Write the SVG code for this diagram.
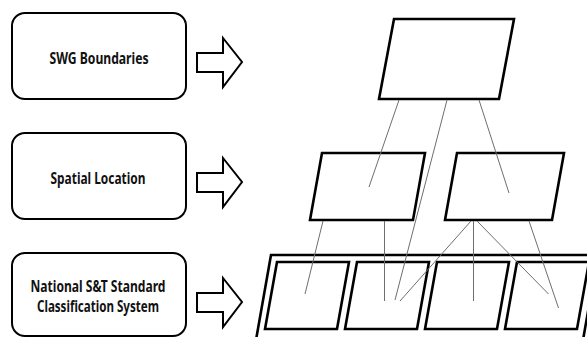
<svg xmlns="http://www.w3.org/2000/svg" width="587" height="337" viewBox="0 0 587 337">
<style>
.box{fill:#fff;stroke:#000;stroke-width:2}
.lbl{font-family:"Noto Sans","Liberation Sans",sans-serif;font-weight:bold;font-size:16px;fill:#111;text-anchor:middle}
.arrow{fill:#fff;stroke:#000;stroke-width:2;stroke-linejoin:miter}
.para{fill:#fff;stroke:#000;stroke-width:2.6;stroke-linejoin:miter}
.link{stroke:#6e6e6e;stroke-width:1;fill:none}
</style>
<rect width="587" height="337" fill="#fff"/>
<g id="swg-boundaries">
<rect class="box" x="12" y="13" width="174" height="86" rx="13"/>
<text class="lbl" x="99" y="63.5" textLength="99" lengthAdjust="spacingAndGlyphs">SWG Boundaries</text>
</g>
<g id="spatial-location">
<rect class="box" x="12" y="133" width="174" height="86" rx="13"/>
<text class="lbl" x="98" y="183.5" textLength="95" lengthAdjust="spacingAndGlyphs">Spatial Location</text>
</g>
<g id="classification-system">
<rect class="box" x="12" y="253" width="174" height="83" rx="13"/>
<text class="lbl" x="98" y="292" textLength="135" lengthAdjust="spacingAndGlyphs">National S&amp;T Standard</text>
<text class="lbl" x="98" y="312" textLength="122" lengthAdjust="spacingAndGlyphs">Classification System</text>
</g>
<g id="arrow-1"><polygon class="arrow" points="197,53 223,53 223,38 242,62 223,87 223,72 197,72"/></g>
<g id="arrow-2"><polygon class="arrow" points="197,173 223,173 223,158 242,182 223,207 223,192 197,192"/></g>
<g id="arrow-3"><polygon class="arrow" points="197,293 223,293 223,278 242,302 223,327 223,312 197,312"/></g>
<g id="outer-frame"><polygon class="para" points="271,255 598,255 583,340 256,340"/></g>
<g id="top-node"><polygon class="para" points="394,19 514,19 499,99 379,99"/></g>
<g id="mid-left"><polygon class="para" points="322,153 425,153 413,220 310,220"/></g>
<g id="mid-right"><polygon class="para" points="457,153 564,153 552,220 445,220"/></g>
<g id="cell-1"><polygon class="para" points="277,262 349,262 337,329 265,329"/></g>
<g id="cell-2"><polygon class="para" points="357,262 429,262 417,329 345,329"/></g>
<g id="cell-3"><polygon class="para" points="437,262 509,262 497,329 425,329"/></g>
<g id="cell-4"><polygon class="para" points="517,262 589,262 577,329 505,329"/></g>
<g id="connectors">
<line class="link" x1="399" y1="100" x2="369" y2="187"/>
<line class="link" x1="447" y1="100" x2="395" y2="300"/>
<line class="link" x1="479" y1="100" x2="509" y2="193"/>
<line class="link" x1="323" y1="221" x2="305" y2="294"/>
<line class="link" x1="384.5" y1="221" x2="384.5" y2="301"/>
<line class="link" x1="471" y1="221" x2="400" y2="301"/>
<line class="link" x1="473.5" y1="221" x2="473.5" y2="301"/>
<line class="link" x1="477" y1="221" x2="548.5" y2="294"/>
<line class="link" x1="529" y1="221" x2="558.5" y2="308"/>
</g>
</svg>
